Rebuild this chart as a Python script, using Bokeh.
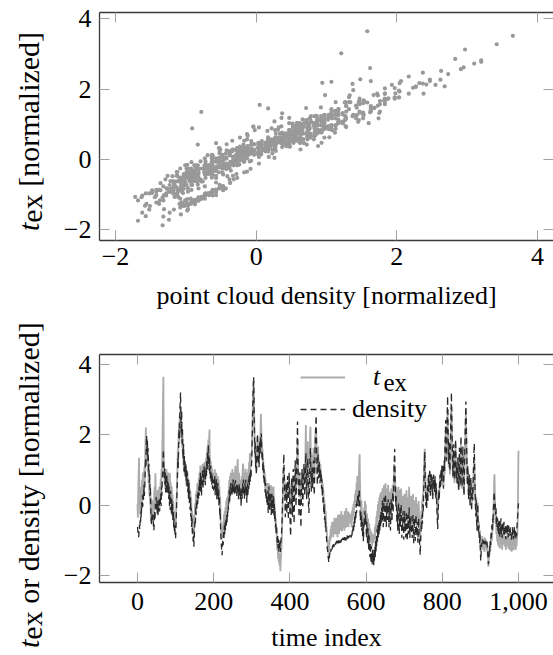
from bokeh.plotting import figure
from bokeh.layouts import column, row
from bokeh.models import (Range1d, FixedTicker, LinearAxis, Label, Legend, LegendItem,
                          NumeralTickFormatter, CustomJSTickFormatter, Div)
from bokeh.embed import file_html
from bokeh.resources import INLINE

SERIF = "Liberation Serif"
TICK = "#a0a0a0"
FRAME = "#3a3a3a"

# ---------------- data ----------------
time_index = list(range(0, 1001))

density = [
    -0.62, -0.74, -0.83, -0.91, -0.78, -0.57, -0.69, -0.43, -0.52, -0.18, -0.34, 0.07, -0.13, 0.28, -0.04, 0.37, 0.16, 0.58, 0.26, 0.47,
    0.86, 1.32, 1.07, 1.68, 1.98, 1.46, 1.83, 1.27, 1.62, 0.97, 1.18, 0.63, 0.87, 0.26, 0.48, -0.13, -0.41, -0.56, -0.22, -0.38,
    -0.47, -0.28, -0.63, -0.72, -0.51, -0.17, -0.43, 0.04, -0.12, 0.23, -0.09, 0.14, -0.24, 0.03, -0.31, 0.12, -0.07, 0.21, -0.18, 0.02,
    0.08, 0.34, -0.03, 0.52, 0.27, 0.71, 0.94, 1.21, 1.58, 1.13, 0.77, 1.04, 0.58, 0.93, 0.36, 0.82, 0.47, 0.88, 0.31, 0.68,
    0.43, 0.62, 0.17, 0.54, -0.03, 0.32, -0.14, 0.41, 0.07, -0.23, 0.18, -0.32, 0.04, -0.48, -0.17, -0.63, -0.38, -0.79, -0.57, -0.92,
    -0.95, -0.63, -0.27, 0.12, 0.43, 0.87, 1.34, 1.06, 1.83, 2.17, 1.88, 2.63, 2.91, 3.2, 2.37, 2.04, 2.68, 1.76, 2.23, 1.47,
    1.32, 1.74, 0.96, 1.43, 0.88, 1.24, 0.76, 1.13, 0.67, 1.02, 0.48, 0.93, 0.37, 0.72, 0.18, 0.63, 0.06, 0.42, -0.13, 0.21,
    -0.33, -0.08, -0.62, -0.37, -0.83, -0.68, -1.03, -0.87, -1.18, -0.92, -0.66, -0.43, -0.52, -0.07, -0.28, 0.13, -0.11, 0.32, 0.03, 0.38,
    0.17, 0.53, 0.27, 0.73, 0.38, 0.92, 0.47, 0.83, 0.26, 0.74, 0.57, 1.03, 0.46, 0.87, 0.66, 1.12, 0.78, 1.04, 0.57, 0.93,
    1.07, 0.82, 1.28, 0.97, 1.53, 1.17, 1.72, 1.26, 0.98, 1.37, 0.87, 0.76, 1.13, 0.67, 0.93, 0.58, 0.84, 0.47, 0.73, 0.56,
    0.42, 0.73, 0.47, 0.82, 0.28, 0.63, 0.36, 0.74, 0.17, 0.52, 0.26, 0.63, 0.16, 0.43, -0.04, 0.27, -0.32, -0.12, -0.63, -0.88,
    -1.12, -1.28, -1.42, -1.17, -0.97, -1.13, -0.76, -0.93, -0.57, -0.83, -0.47, -0.72, -0.36, -0.63, -0.27, -0.52, -0.18, -0.33, 0.04, -0.12,
    0.18, 0.43, 0.07, 0.52, 0.27, 0.63, 0.38, 0.54, 0.26, 0.62, 0.37, 0.73, 0.48, 0.36, 0.63, 0.27, 0.52, 0.71, 0.36, 0.58,
    0.53, 0.26, 0.62, 0.37, 0.48, 0.17, 0.43, 0.63, 0.27, 0.52, 0.16, 0.42, -0.04, 0.33, 0.47, 0.18, 0.62, 0.36, 0.73, 0.27,
    0.47, 0.18, 0.63, 0.37, 0.72, 0.26, 0.53, 0.07, 0.43, 0.62, 0.27, 0.73, 0.46, 0.83, 0.57, 0.92, 0.66, 1.03, 0.77, 1.12,
    1.28, 1.83, 2.37, 2.97, 3.42, 3.65, 2.83, 2.06, 1.47, 1.82, 1.07, 1.43, 0.87, 1.32, 1.58, 2.03, 1.46, 1.17, 1.73, 1.08,
    1.42, 1.83, 1.47, 1.93, 1.62, 2.04, 1.67, 1.28, 1.53, 0.97, 1.23, 0.76, 1.02, 0.57, 0.83, 0.36, 0.63, 0.17, 0.42, 0.08,
    0.27, -0.03, 0.42, -0.22, 0.18, 0.53, 0.06, -0.13, 0.32, -0.04, 0.37, -0.28, 0.13, 0.32, -0.23, 0.17, -0.08, 0.28, -0.33, 0.03,
    -0.42, -0.17, -0.63, -0.48, -0.82, -0.57, -0.93, -1.07, -0.88, -1.23, -0.97, -1.32, -1.08, -1.24, -0.98, -1.33, -1.07, -0.97, -0.82, -0.58,
    -0.33, 0.18, 0.72, 1.08, 1.45, 0.96, 0.47, 0.06, -0.34, 0.23, 0.63, 0.28, -0.23, 0.42, 0.83, 0.17, -0.42, 0.33, 0.92, 0.38,
    -0.23, -0.62, -0.88, -0.27, 0.43, 0.77, 0.18, -0.33, 0.52, 1.03, 0.27, -0.52, 0.16, 0.73, 1.28, 0.57, -0.04, 0.48, 1.07, 1.76,
    2.38, 1.47, 0.76, 0.17, -0.34, 0.27, 0.93, 0.37, -0.23, -0.63, 0.08, 0.57, 1.03, 0.46, -0.03, 0.38, 0.87, 1.17, 0.66, 0.27,
    0.57, 1.13, 1.48, 0.76, 0.17, 0.62, 0.97, 1.33, 0.68, -0.03, -0.22, 0.37, 0.92, 1.38, 1.63, 0.97, 0.38, 0.73, 1.07, 0.78,
    0.48, 1.03, 1.27, 0.66, 0.28, 0.87, 1.53, 1.97, 2.32, 2.55, 1.76, 1.17, 0.57, 1.03, 1.47, 1.08, 0.76, 1.23, 0.87, 0.62,
    1.03, 0.67, 0.92, 0.47, 0.73, 0.26, 0.53, 0.07, 0.23, -0.23, 0.03, -0.42, -0.27, -0.63, -0.47, -0.82, -0.93, -1.07, -1.23, -1.28,
    -1.42, -1.51, -1.62, -1.56, -1.44, -1.38, -1.31, -1.36, -1.24, -1.29, -1.21, -1.26, -1.14, -1.22, -1.11, -1.19, -1.16, -1.12, -1.18, -1.09,
    -1.12, -1.04, -1.13, -1.01, -1.08, -1.06, -0.98, -1.09, -0.96, -1.04, -1.02, -1.08, -0.99, -0.94, -1.06, -1.01, -0.96, -1.03, -0.99, -0.93,
    -0.99, -0.94, -1.03, -0.91, -0.98, -0.96, -0.89, -1.01, -0.92, -0.94, -0.86, -0.97, -0.88, -0.84, -0.93, -0.91, -0.86, -0.89, -0.81, -0.88,
    -0.87, -0.92, -0.78, -0.86, -0.72, -0.79, -0.58, -0.73, -0.47, -0.62, -0.28, -0.53, -0.17, -0.42, 0.03, -0.23, 0.18, -0.02, 0.27, 0.12,
    0.33, -0.04, 0.47, 0.17, -0.12, -0.43, -0.17, -0.62, -0.27, -0.73, -0.48, -0.92, -0.57, -1.03, -0.68, -0.37, -0.62, -0.17, -0.53, -0.27,
    -0.57, -0.93, -0.47, -0.82, -1.13, -0.66, -1.02, -1.27, -0.86, -1.23, -1.48, -1.07, -1.42, -1.63, -1.17, -1.52, -1.68, -1.27, -1.62, -1.36,
    -1.72, -1.27, -1.57, -1.18, -1.48, -0.97, -1.32, -0.88, -1.17, -0.68, -1.03, -0.57, -0.92, -0.48, -0.83, -0.37, -0.72, -0.27, -0.63, -0.18,
    -0.52, -0.07, -0.43, 0.13, -0.27, -0.63, -0.18, 0.22, -0.13, -0.53, 0.04, 0.32, -0.23, -0.62, -0.28, 0.07, -0.42, -0.12, 0.17, -0.33,
    -0.63, -0.18, 0.07, -0.43, -0.72, -0.27, 0.17, -0.13, -0.47, 0.03, 0.38, -0.22, 0.27, 0.83, 1.28, 1.6, 0.87, 0.37, -0.03, 0.27,
    -0.13, -0.52, -0.17, -0.73, -0.28, 0.08, -0.43, -0.82, -0.47, -0.07, -0.62, -0.27, 0.03, -0.52, -0.93, -0.37, -0.72, -0.17, -0.57, -0.98,
    -0.47, -0.17, -0.73, -0.38, -0.92, -0.53, -0.18, -0.63, -1.02, -0.67, -0.27, -0.83, -0.48, -0.07, -0.62, -0.93, -0.37, -0.73, -0.28, -0.82,
    -0.52, -0.93, -0.57, -0.27, -0.73, -1.08, -0.77, -0.38, -0.63, -1.02, -0.68, -0.27, -0.62, -0.87, -0.47, -0.83, -1.07, -0.72, -0.37, -0.83,
    -1.03, -1.18, -1.42, -1.07, -0.83, -0.47, -0.72, -0.27, -0.53, 0.03, -0.17, 0.28, 0.83, 1.17, 1.52, 0.87, 0.43, -0.03, 0.32, -0.08,
    0.17, 0.53, 0.07, 0.62, 0.88, 0.37, 0.73, 1.03, 0.57, 0.27, 0.72, 0.93, 0.47, 0.83, 0.38, 0.17, 0.63, 0.87, 0.48, 0.73,
    0.37, 0.83, 0.47, 0.17, 0.62, 0.27, -0.13, -0.42, -0.68, -0.27, 0.07, 0.43, 0.17, 0.63, 0.87, 0.47, 0.83, 1.02, 0.67, 1.13,
    0.83, 1.17, 0.92, 0.47, 0.83, 1.27, 0.97, 1.63, 1.97, 2.42, 1.68, 1.27, 2.03, 2.62, 3.1, 2.27, 1.63, 1.17, 1.83, 1.38,
    0.97, 1.52, 2.17, 2.73, 3.2, 2.47, 1.83, 1.17, 0.83, 1.27, 1.73, 1.07, 0.73, 0.97, 1.53, 1.87, 1.23, 0.77, 1.13, 0.57,
    0.93, 1.37, 0.78, 0.43, 0.97, 1.63, 1.07, 0.57, 1.23, 1.97, 1.42, 0.77, 0.53, 1.13, 1.68, 1.17, 0.73, 0.27, 0.87, 1.52,
    2.03, 2.47, 2.95, 2.27, 1.63, 0.97, 0.57, 1.13, 0.67, 0.17, 0.62, 0.87, 0.37, -0.03, 0.53, 0.77, 0.27, -0.17, 0.23, 0.47,
    0.13, 0.63, 1.07, 1.52, 1.75, 0.97, 0.47, 0.03, -0.32, 0.17, -0.42, -0.72, -0.27, 0.04, -0.53, -0.77, -0.57, -0.92, -1.08, -0.83,
    -1.33, -1.58, -1.37, -1.18, -1.06, -1.12, -0.98, -1.09, -1.04, -0.99, -1.11, -1.03, -0.97, -1.08, -1.06, -1.12, -1.01, -1.04, -1.16, -1.31,
    -1.52, -1.68, -1.57, -1.38, -1.17, -1.32, -0.97, -1.13, -0.78, -0.92, -0.57, -0.73, -0.38, -0.52, -0.17, 0.07, 0.38, 0.22, -0.13, 0.04,
    -0.27, -0.08, -0.53, -0.32, -0.62, -0.37, -0.73, -0.48, -0.82, -0.43, -0.57, -0.92, -0.47, -0.73, -0.37, -0.83, -0.57, -0.93, -0.67, -0.47,
    -0.62, -0.83, -0.47, -0.73, -0.88, -0.57, -0.82, -0.97, -0.68, -0.57, -0.83, -0.52, -0.73, -0.92, -0.58, -0.77, -0.67, -0.87, -0.62, -0.78,
    -0.73, -0.88, -1.02, -0.77, -0.63, -0.87, -0.72, -0.97, -0.83, -0.58, -0.92, -0.67, -0.82, -0.98, -0.73, -0.87, -0.62, -0.47, -0.28, -0.13,
    0.05,
]

t_ex = [
    0.03, -0.36, 0.42, 0.88, 1.35, 0.46, 0.12, -0.27, 0.31, -0.06, 0.53, 0.14, 0.72, 0.24, 0.93, 0.35, 0.81, 0.54, 1.08, 0.66,
    1.24, 1.77, 2.21, 1.46, 1.88, 1.12, 1.73, 0.95, 1.34, 0.62, 1.06, 0.28, 0.74, 0.04, 0.36, -0.35, -0.48, -0.21, 0.16, -0.24,
    -0.16, 0.12, -0.44, -0.27, 0.28, 0.53, 0.05, 0.91, 0.36, 0.17, -0.06, 0.34, -0.15, 0.43, 0.08, 0.29, -0.04, 0.52, 0.06, 0.33,
    0.42, 0.74, 0.26, 1.02, 0.83, 1.46, 2.18, 3.02, 3.65, 1.38, 1.06, 0.63, 1.04, 0.47, 0.94, 0.57, 1.03, 0.38, 0.84, 0.46,
    0.72, 0.93, 0.47, 0.84, 0.26, 0.91, 0.18, 0.64, 0.37, 0.08, 0.53, -0.14, 0.31, -0.26, 0.12, -0.43, -0.17, -0.58, -0.27, -0.52,
    -0.62, -0.38, 0.04, 0.27, 0.73, 1.08, 1.63, 1.26, 2.02, 2.36, 1.74, 2.52, 2.57, 2.82, 2.16, 1.93, 2.08, 1.66, 2.04, 1.36,
    1.63, 1.17, 1.04, 1.26, 0.84, 1.08, 1.03, 1.17, 0.57, 0.93, 0.74, 0.97, 0.53, 0.76, 0.32, 0.72, 0.23, 0.47, 0.13, 0.38,
    -0.12, 0.23, -0.43, -0.16, -0.62, -0.27, -0.84, -0.46, -0.93, -0.57, -0.34, 0.04, -0.23, 0.32, -0.04, 0.41, 0.13, 0.62, 0.18, 0.53,
    0.52, 0.77, 0.43, 0.92, 0.63, 1.13, 0.67, 1.04, 0.48, 0.82, 0.93, 1.18, 0.72, 1.02, 1.14, 0.76, 1.23, 0.87, 0.68, 1.07,
    1.33, 0.96, 1.52, 1.17, 1.68, 1.43, 1.87, 1.62, 1.83, 2.15, 1.16, 1.04, 1.27, 0.93, 1.12, 0.76, 1.03, 0.68, 0.92, 0.77,
    0.74, 0.87, 0.63, 1.02, 0.46, 0.83, 0.57, 0.92, 0.53, 0.67, 0.48, 0.82, 0.36, 0.73, 0.27, 0.53, -0.04, 0.23, -0.27, -0.62,
    -0.83, -0.97, -0.92, -0.66, -0.82, -0.47, -0.63, -0.26, -0.53, -0.17, -0.43, -0.06, -0.32, 0.13, -0.08, 0.22, 0.03, 0.27, 0.14, 0.38,
    0.43, 0.72, 0.27, 0.83, 0.47, 0.92, 0.56, 0.83, 0.47, 1.03, 0.57, 0.93, 0.74, 0.46, 0.82, 0.57, 0.94, 1.12, 0.63, 0.78,
    0.74, 0.47, 1.02, 1.31, 0.83, 0.46, 0.63, 0.92, 0.47, 0.72, 0.38, 0.63, 0.26, 0.52, 0.83, 0.47, 0.93, 1.18, 1.04, 0.57,
    0.83, 0.46, 0.92, 0.57, 1.03, 0.47, 0.73, 0.26, 0.62, 0.93, 0.48, 1.02, 0.66, 1.23, 0.87, 1.48, 0.97, 1.27, 1.13, 1.37,
    1.52, 1.87, 2.47, 3.13, 3.28, 3.52, 2.86, 2.23, 1.57, 1.68, 1.23, 1.47, 0.97, 1.43, 1.62, 1.96, 1.63, 1.26, 1.82, 1.17,
    1.53, 1.87, 1.73, 2.12, 2.6, 2.17, 1.83, 1.36, 1.62, 1.07, 1.32, 0.87, 1.13, 0.66, 0.93, 0.47, 0.72, 0.37, 0.63, 0.26,
    0.53, 0.16, 0.63, 0.07, 0.43, 0.62, 0.27, 0.12, 0.48, 0.23, 0.57, -0.04, 0.33, 0.52, 0.07, 0.43, 0.17, 0.53, -0.03, 0.22,
    -0.23, -0.07, -0.52, -0.37, -0.83, -0.66, -1.12, -1.27, -1.17, -1.52, -1.28, -1.63, -1.37, -1.72, -1.46, -1.88, -1.57, -1.42, -1.17, -0.87,
    -0.47, 0.07, 0.42, 0.83, 1.07, 0.87, 0.62, 0.43, 0.27, 0.46, 0.57, 0.43, 0.32, 0.51, 0.68, 0.47, 0.26, 0.54, 0.83, 0.62,
    0.23, 0.08, -0.17, 0.12, 0.43, 0.62, 0.47, 0.28, 0.54, 0.86, 0.57, 0.17, 0.36, 0.63, 0.92, 0.73, 0.43, 0.62, 0.97, 1.36,
    1.87, 1.33, 0.92, 0.54, 0.23, 0.47, 0.82, 0.63, 0.36, 0.07, 0.33, 0.62, 0.93, 0.67, 0.43, 0.63, 0.96, 1.04, 0.83, 0.62,
    0.97, 1.63, 2.28, 1.17, 0.63, 0.86, 1.27, 1.82, 1.03, 0.43, 0.27, 0.76, 1.23, 1.97, 2.23, 1.26, 0.72, 0.96, 1.43, 1.07,
    0.83, 1.17, 1.63, 0.97, 0.73, 1.07, 1.66, 2.03, 2.17, 2.12, 1.57, 1.33, 0.87, 1.23, 1.67, 1.27, 1.03, 1.28, 1.13, 0.77,
    1.17, 0.93, 0.97, 0.73, 0.77, 0.52, 0.63, 0.27, 0.43, -0.03, 0.17, -0.12, 0.04, -0.33, -0.17, -0.52, -0.63, -0.77, -0.92, -1.03,
    -1.23, -1.33, -1.52, -1.27, -1.08, -0.87, -1.02, -0.68, -0.93, -0.57, -0.83, -0.47, -0.78, -0.62, -0.91, -0.48, -0.73, -0.36, -0.82, -0.57,
    -0.47, -0.83, -0.36, -0.72, -0.52, -0.91, -0.27, -0.63, -0.38, -0.82, -0.53, -0.26, -0.73, -0.42, -0.64, -0.17, -0.53, -0.74, -0.37, -0.62,
    -0.27, -0.63, -0.42, -0.73, -0.16, -0.52, -0.33, -0.64, -0.08, -0.43, -0.62, -0.27, -0.53, -0.18, -0.63, -0.37, -0.22, -0.48, -0.27, -0.43,
    -0.52, -0.27, -0.63, -0.17, -0.43, -0.06, -0.32, 0.03, -0.23, 0.12, -0.04, 0.32, 0.07, 0.43, 0.17, 0.62, 0.38, 0.83, 0.47, 0.28,
    0.62, 0.93, 1.18, 1.45, 0.67, 0.17, -0.04, -0.27, 0.13, -0.43, -0.17, -0.58, -0.23, -0.72, -0.36, -0.07, -0.32, 0.12, -0.18, 0.04,
    -0.33, -0.47, -0.23, -0.42, -0.63, -0.38, -0.57, -0.83, -0.52, -0.73, -0.96, -0.67, -0.87, -1.08, -0.76, -0.97, -1.17, -0.83, -1.03, -0.88,
    -1.07, -0.83, -0.97, -0.62, -0.88, -0.53, -0.77, -0.32, -0.68, -0.17, -0.47, 0.03, -0.38, 0.12, -0.27, 0.23, -0.16, 0.32, 0.03, 0.37,
    -0.07, 0.27, 0.03, 0.48, 0.12, -0.17, 0.23, 0.57, 0.27, -0.08, 0.37, 0.62, 0.17, -0.23, 0.13, 0.47, 0.03, 0.27, 0.58, 0.07,
    -0.27, 0.13, 0.38, 0.04, -0.36, 0.03, 0.47, 0.23, -0.07, 0.32, 0.57, 0.12, 0.47, 0.87, 1.17, 1.03, 0.77, 0.47, 0.23, 0.52,
    0.33, -0.07, 0.23, -0.27, 0.12, 0.52, 0.03, -0.37, -0.04, 0.43, -0.17, 0.13, 0.47, 0.04, -0.38, 0.12, -0.23, 0.27, -0.06, -0.47,
    0.04, 0.32, -0.17, 0.23, -0.38, 0.03, 0.42, -0.06, -0.47, -0.17, 0.23, -0.27, 0.13, 0.52, -0.07, -0.36, 0.12, -0.18, 0.27, -0.28,
    0.03, -0.37, -0.07, 0.32, -0.17, -0.57, -0.26, 0.13, -0.08, -0.47, -0.18, 0.23, -0.07, -0.38, 0.04, -0.27, -0.57, -0.17, 0.12, -0.27,
    -0.57, -0.87, -1.02, -0.67, -0.43, -0.17, -0.27, 0.13, -0.07, 0.33, 0.23, 0.62, 0.97, 1.43, 1.6, 1.07, 0.73, 0.27, 0.53, 0.17,
    0.43, 0.57, 0.27, 0.73, 0.77, 0.53, 0.67, 0.93, 0.62, 0.37, 0.73, 0.78, 0.53, 0.67, 0.43, 0.27, 0.63, 0.77, 0.53, 0.57,
    0.53, 0.67, 0.37, 0.23, 0.47, 0.33, 0.03, -0.17, -0.42, -0.07, 0.23, 0.37, 0.27, 0.53, 0.77, 0.52, 0.68, 0.93, 0.57, 0.87,
    0.67, 1.03, 0.77, 0.53, 0.68, 1.13, 0.87, 1.42, 1.77, 2.13, 1.47, 1.23, 1.76, 2.27, 2.73, 2.07, 1.52, 1.07, 1.63, 1.27,
    0.87, 1.33, 1.87, 2.43, 2.78, 2.23, 1.57, 1.13, 0.77, 1.17, 1.53, 0.97, 0.63, 0.93, 1.27, 1.72, 1.07, 0.73, 0.97, 0.63,
    0.77, 1.23, 0.67, 0.43, 0.87, 1.37, 0.97, 0.53, 1.03, 1.73, 1.17, 0.67, 0.47, 0.97, 1.47, 1.07, 0.63, 0.33, 0.77, 1.27,
    1.77, 2.27, 2.62, 2.07, 1.47, 1.03, 0.63, 0.97, 0.73, 0.27, 0.57, 0.83, 0.47, 0.13, 0.48, 0.73, 0.33, 0.04, 0.27, 0.53,
    0.23, 0.47, 0.93, 1.17, 1.32, 0.87, 0.43, 0.13, -0.17, 0.23, -0.27, -0.53, -0.17, 0.07, -0.37, -0.62, -0.47, -0.73, -0.87, -0.72,
    -1.08, -1.32, -1.17, -0.97, -1.23, -0.88, -1.13, -1.27, -0.96, -1.22, -1.07, -1.33, -0.92, -1.12, -1.23, -0.98, -1.17, -1.28, -1.07, -1.42,
    -1.43, -1.75, -1.62, -1.27, -1.43, -1.17, -1.32, -0.98, -1.13, -0.87, -1.02, -0.77, -0.57, -0.73, -0.37, 0.17, 0.62, 0.88, 0.27, -0.12,
    -0.53, -0.27, -0.83, -0.57, -1.03, -0.67, -1.12, -0.77, -1.18, -0.83, -0.87, -1.23, -0.88, -1.03, -0.67, -1.13, -0.87, -1.27, -0.97, -0.78,
    -0.87, -1.12, -0.77, -1.03, -1.17, -0.93, -1.08, -1.27, -0.97, -0.88, -1.13, -0.82, -0.98, -1.23, -0.87, -1.07, -1.02, -1.28, -0.93, -1.08,
    -1.03, -1.17, -1.32, -1.07, -0.92, -1.23, -0.97, -1.28, -1.13, -0.87, -1.18, -0.97, -1.12, -1.27, -1.03, -1.17, -0.92, -0.77, -0.42, 0.57,
    1.55,
]

value_ticks = [-2, 0, 2, 4]
density_ticks = [-2, 0, 2, 4]
time_ticks = [0, 200, 400, 600, 800, 1000]

MINUS = {-2: "\u22122"}

# ---------------- layout constants (pixels) ----------------
LAB_W = 60            # strip holding the rotated y titles
MAIN_W = 493          # plot canvas; its frame starts 39 px in (x = 99 on the page)
H1, H2 = 312, 343
Y1 = (-2.312, 4.184)
Y2 = (-2.199, 4.284)
FS_Y = 30             # y title font size


def blank_axis(ticks, side, p, line=True):
    ax = LinearAxis(ticker=FixedTicker(ticks=ticks),
                    formatter=CustomJSTickFormatter(code="return ''"),
                    major_label_text_font_size="0px", major_label_text_color=None,
                    major_label_standoff=0,
                    axis_line_color=FRAME if line else None, axis_line_width=1.3,
                    major_tick_in=10, major_tick_out=0,
                    major_tick_line_color=TICK, minor_tick_line_color=None)
    p.add_layout(ax, side)


def style(p, xticks, yticks):
    p.outline_line_color = None
    p.grid.visible = False
    p.min_border_left = 39
    p.min_border_right = 0
    xa, ya = p.below[0], p.left[0]
    xa.ticker = FixedTicker(ticks=xticks)
    ya.ticker = FixedTicker(ticks=yticks)
    for ax in (xa, ya):
        ax.axis_line_color = FRAME
        ax.axis_line_width = 1.3
        ax.major_tick_in = 10
        ax.major_tick_out = 0
        ax.major_tick_line_color = TICK
        ax.minor_tick_line_color = None
        ax.major_label_text_font = SERIF
        ax.major_label_text_font_size = "26px"
        ax.major_label_text_color = "black"
        ax.axis_label_text_font = SERIF
        ax.axis_label_text_font_size = "26px"
        ax.axis_label_text_font_style = "normal"
        ax.axis_label_text_color = "black"
    ya.major_label_standoff = 8
    ya.major_label_overrides = MINUS
    blank_axis(xticks, "above", p, line=True)
    blank_axis(yticks, "right", p, line=False)


def ytitle(height, start_y, rest):
    """Rotated y title; baseline at x = 39, text starting at start_y (from the strip top)."""
    left = 39 + 4.9
    top = start_y - 30
    html = (
        f'<div style="position:relative;width:{LAB_W}px;height:{height}px;overflow:visible;">'
        f'<div style="position:absolute;left:{left}px;top:{top}px;height:30px;line-height:30px;'
        f'white-space:nowrap;transform:rotate(-90deg);transform-origin:0 100%;'
        f"font-family:'Liberation Serif';font-size:{FS_Y}px;color:#000;\">"
        f'<i>t</i><span style="position:relative;top:3px;">ex</span> {rest}</div></div>'
    )
    return Div(text=html, width=LAB_W, height=height, margin=0)


# ---------------- top: scatter ----------------
p1 = figure(width=MAIN_W, height=H1, output_backend="svg", toolbar_location=None,
            x_range=Range1d(-2.2275, 4.2275), y_range=Range1d(*Y1))
p1.min_border_top = 12
p1.min_border_bottom = 71
style(p1, density_ticks, value_ticks)
p1.below[0].major_label_overrides = MINUS
p1.below[0].major_label_standoff = 7
p1.below[0].axis_label = "point cloud density [normalized]"
p1.below[0].axis_label_standoff = 13
p1.scatter(x=density, y=t_ex, size=4.2, color="#999999", line_color=None)

lab1 = ytitle(H1, 231, "[normalized]")

# ---------------- bottom: time series ----------------
p2 = figure(width=MAIN_W, height=H2, output_backend="svg", toolbar_location=None,
            x_range=Range1d(-99.7, 1091.9), y_range=Range1d(*Y2))
p2.min_border_top = 42
p2.min_border_bottom = 73
style(p2, time_ticks, value_ticks)
p2.below[0].formatter = NumeralTickFormatter(format="0,0")
p2.below[0].major_label_standoff = 10
p2.below[0].axis_label = "time index"
p2.below[0].axis_label_standoff = 10
r_g = p2.line(x=time_index, y=t_ex, line_color="#ababab", line_width=1.8)
r_d = p2.line(x=time_index, y=density, line_color="#2a2a2a", line_width=1.3, line_dash="6 4")

lab2 = ytitle(H2, 336, "or density [normalized]")

leg_a = Legend(items=[LegendItem(label="t", renderers=[r_g])],
               location=(201, 190.5), glyph_width=45, glyph_height=20, label_height=20,
               label_width=0, label_standoff=28, padding=0, margin=0, spacing=0,
               border_line_color=None, background_fill_alpha=0.0,
               label_text_font=SERIF, label_text_font_size="26px", label_text_font_style="italic",
               label_text_color="black")
leg_b = Legend(items=[LegendItem(label="density", renderers=[r_d])],
               location=(201, 158.5), glyph_width=45, glyph_height=20, label_height=20,
               label_standoff=7, padding=0, margin=0, spacing=0,
               border_line_color=None, background_fill_alpha=0.0,
               label_text_font=SERIF, label_text_font_size="26px", label_text_color="black")
p2.add_layout(leg_b)
p2.add_layout(leg_a)
# subscript of the legend entry, just right of the italic t
ex_y = Y2[1] - (382 - 354) * (Y2[1] - Y2[0]) / 228
p2.add_layout(Label(x=284, y=ex_y, x_units="screen", y_units="data", text="ex",
                    text_font=SERIF, text_font_size="25px",
                    text_baseline="alphabetic", text_color="black"))

layout = column(row(lab1, p1, spacing=0), row(lab2, p2, spacing=0), spacing=0)
open("out.html", "w").write(file_html(layout, INLINE))
